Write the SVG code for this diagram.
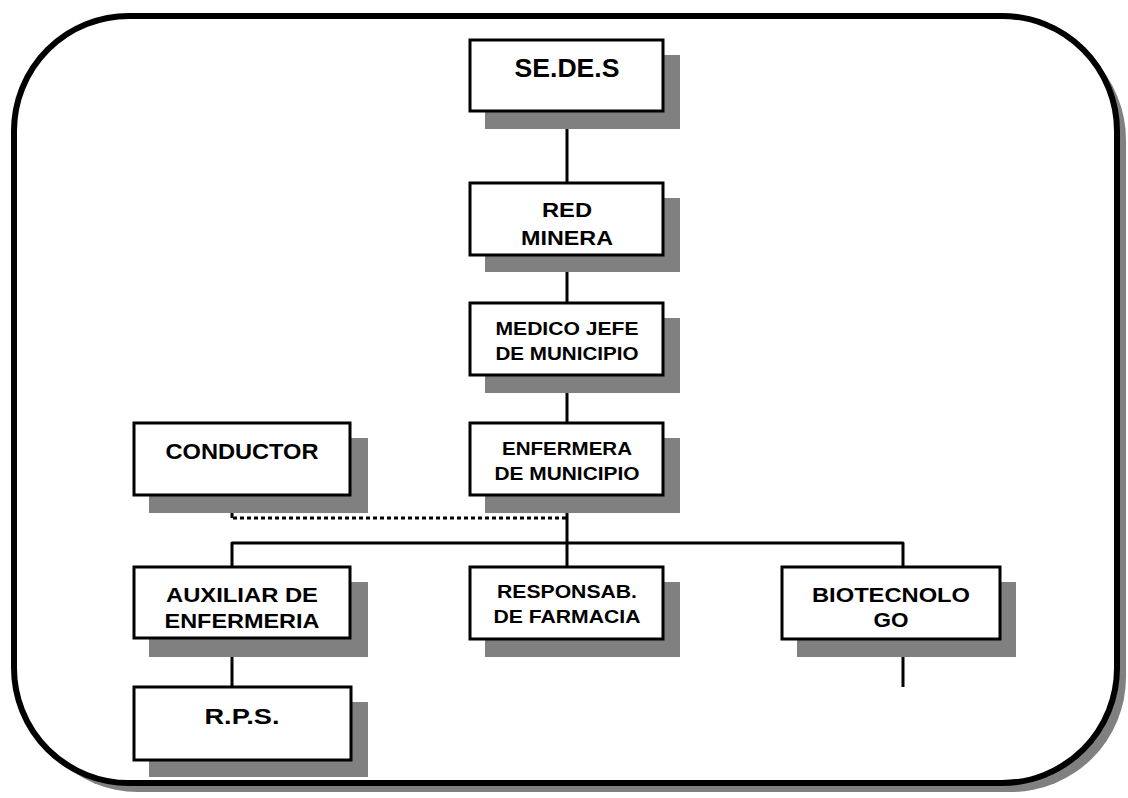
<svg xmlns="http://www.w3.org/2000/svg" width="1128" height="798" viewBox="0 0 1128 798">
<style>
.box{fill:#fff;stroke:#000;stroke-width:3}
.shd{fill:#808080}
.t{font-family:"Liberation Sans",Arial,sans-serif;font-weight:bold;fill:#000;text-anchor:middle}
.ln{stroke:#000;stroke-width:3;fill:none;stroke-linejoin:round}
.dot{stroke:#000;stroke-width:3;fill:none;stroke-dasharray:4 3}
</style>
<rect width="1128" height="798" fill="#fff"/>
<g id="frame">
<rect x="23" y="25" width="1103" height="767" rx="115" ry="115" fill="#808080"/>
<rect x="14" y="16" width="1103" height="767" rx="115" ry="115" fill="#fff" stroke="#000" stroke-width="6"/>
</g>
<g id="connectors">
<line class="ln" x1="567" y1="111" x2="567" y2="567"/>
<polyline class="ln" points="232,567 232,543 903,543 903,567"/>
<line class="ln" x1="232" y1="638" x2="232" y2="687"/>
<line class="ln" x1="903" y1="639" x2="903" y2="687"/>
<line class="ln" x1="232" y1="495" x2="232" y2="518"/>
<line class="dot" x1="233" y1="518" x2="566" y2="518"/>
</g>
<g id="n-sedes">
<rect class="shd" x="485" y="55" width="195" height="74"/>
<rect class="box" x="470" y="40" width="193" height="71"/>
<text class="t" x="567" y="77" font-size="25" textLength="105" lengthAdjust="spacingAndGlyphs">SE.DE.S</text>
</g>
<g id="n-red">
<rect class="shd" x="485" y="198" width="195" height="74"/>
<rect class="box" x="470" y="183" width="193" height="72"/>
<text class="t" x="567" y="217" font-size="21" textLength="50" lengthAdjust="spacingAndGlyphs">RED</text>
<text class="t" x="567" y="245" font-size="21" textLength="92" lengthAdjust="spacingAndGlyphs">MINERA</text>
</g>
<g id="n-medico">
<rect class="shd" x="485" y="318" width="195" height="75"/>
<rect class="box" x="470" y="303" width="193" height="72"/>
<text class="t" x="567" y="335" font-size="19" textLength="143" lengthAdjust="spacingAndGlyphs">MEDICO JEFE</text>
<text class="t" x="567" y="360" font-size="19" textLength="143" lengthAdjust="spacingAndGlyphs">DE MUNICIPIO</text>
</g>
<g id="n-enfermera">
<rect class="shd" x="485" y="438" width="195" height="75"/>
<rect class="box" x="470" y="423" width="193" height="72"/>
<text class="t" x="567" y="455" font-size="19" textLength="130" lengthAdjust="spacingAndGlyphs">ENFERMERA</text>
<text class="t" x="567" y="480" font-size="19" textLength="145" lengthAdjust="spacingAndGlyphs">DE MUNICIPIO</text>
</g>
<g id="n-conductor">
<rect class="shd" x="149" y="438" width="219" height="75"/>
<rect class="box" x="134" y="423" width="216" height="72"/>
<text class="t" x="242" y="459" font-size="22" textLength="153" lengthAdjust="spacingAndGlyphs">CONDUCTOR</text>
</g>
<g id="n-auxiliar">
<rect class="shd" x="149" y="582" width="219" height="75"/>
<rect class="box" x="134" y="567" width="216" height="71"/>
<text class="t" x="242" y="602" font-size="21" textLength="152" lengthAdjust="spacingAndGlyphs">AUXILIAR DE</text>
<text class="t" x="242" y="628" font-size="21" textLength="155" lengthAdjust="spacingAndGlyphs">ENFERMERIA</text>
</g>
<g id="n-responsab">
<rect class="shd" x="485" y="582" width="195" height="75"/>
<rect class="box" x="470" y="567" width="193" height="72"/>
<text class="t" x="567" y="598" font-size="19" textLength="140" lengthAdjust="spacingAndGlyphs">RESPONSAB.</text>
<text class="t" x="567" y="623" font-size="19" textLength="147" lengthAdjust="spacingAndGlyphs">DE FARMACIA</text>
</g>
<g id="n-biotec">
<rect class="shd" x="797" y="582" width="219" height="75"/>
<rect class="box" x="782" y="567" width="218" height="72"/>
<text class="t" x="891" y="602" font-size="21" textLength="158" lengthAdjust="spacingAndGlyphs">BIOTECNOLO</text>
<text class="t" x="891" y="627" font-size="21" textLength="35" lengthAdjust="spacingAndGlyphs">GO</text>
</g>
<g id="n-rps">
<rect class="shd" x="149" y="702" width="219" height="75"/>
<rect class="box" x="134" y="687" width="217" height="73"/>
<text class="t" x="242" y="724" font-size="22" textLength="75" lengthAdjust="spacingAndGlyphs">R.P.S.</text>
</g>
</svg>
